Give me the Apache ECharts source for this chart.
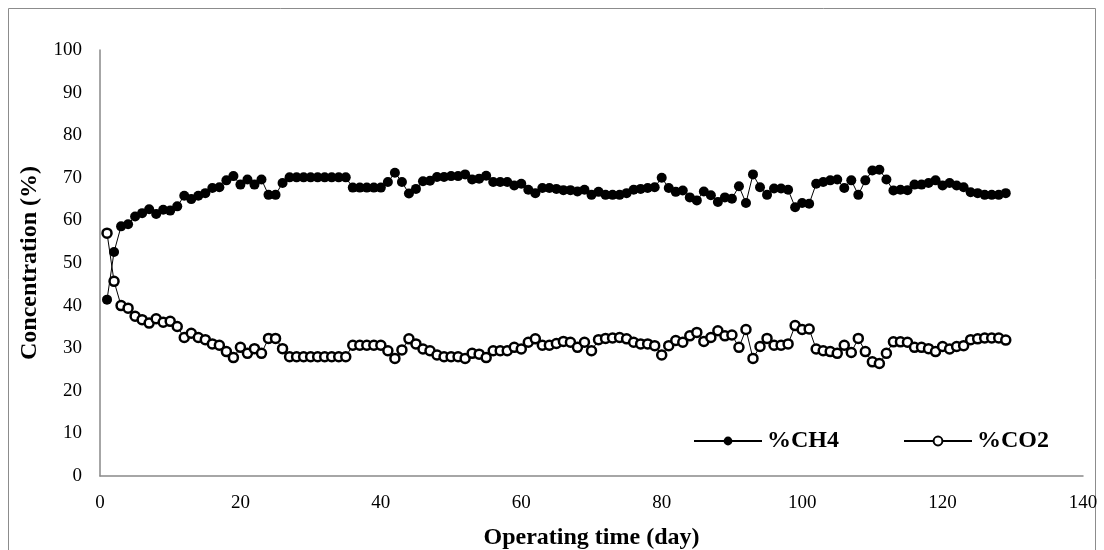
<!DOCTYPE html>
<html>
<head>
<meta charset="utf-8">
<script src="https://cdn.jsdelivr.net/npm/echarts@6/dist/echarts.min.js"></script>
<style>
  html, body { margin: 0; padding: 0; background: #ffffff; }
  #chart { width: 1104px; height: 550px; }
</style>
</head>
<body>
<div id="chart"></div>
<script>
// Biogas composition over the operating period (one reading per day)
const ch4 = [
  41.4, 52.6, 58.6, 59.1, 60.9, 61.7, 62.6, 61.5, 62.5, 62.3,
  63.3, 65.8, 65.0, 65.8, 66.4, 67.6, 67.8, 69.4, 70.4, 68.4,
  69.6, 68.4, 69.6, 66.0, 66.0, 68.8, 70.1, 70.1, 70.1, 70.1,
  70.1, 70.1, 70.1, 70.1, 70.1, 67.7, 67.7, 67.7, 67.7, 67.7,
  69.0, 71.2, 69.0, 66.3, 67.4, 69.2, 69.3, 70.2, 70.2, 70.4,
  70.4, 70.8, 69.6, 69.8, 70.5, 69.0, 69.0, 69.0, 68.2, 68.6,
  67.2, 66.4, 67.6, 67.6, 67.4, 67.1, 67.1, 66.8, 67.2, 66.0,
  66.7, 66.0, 66.0, 66.0, 66.4, 67.2, 67.4, 67.6, 67.8, 70.0,
  67.6, 66.7, 67.0, 65.4, 64.7, 66.8, 65.9, 64.3, 65.4, 65.1,
  68.0, 64.1, 70.8, 67.8, 66.0, 67.5, 67.5, 67.2, 63.1, 64.1,
  63.9, 68.6, 69.0, 69.4, 69.6, 67.6, 69.4, 66.0, 69.4, 71.7,
  71.9, 69.6, 67.0, 67.2, 67.1, 68.4, 68.4, 68.8, 69.4, 68.2,
  68.8, 68.2, 67.8, 66.6, 66.4, 66.0, 66.0, 66.0, 66.4
];
const co2 = [
  57.0, 45.7, 40.0, 39.4, 37.5, 36.7, 35.9, 36.9, 36.1, 36.3,
  35.1, 32.5, 33.5, 32.5, 32.0, 31.0, 30.7, 29.2, 27.8, 30.2,
  28.8, 29.9, 28.8, 32.3, 32.3, 29.9, 28.0, 28.0, 28.0, 28.0,
  28.0, 28.0, 28.0, 28.0, 28.0, 30.7, 30.7, 30.7, 30.7, 30.7,
  29.4, 27.6, 29.6, 32.2, 31.0, 29.8, 29.4, 28.4, 28.0, 28.0,
  28.0, 27.6, 28.8, 28.6, 27.8, 29.4, 29.4, 29.4, 30.2, 29.8,
  31.4, 32.2, 30.7, 30.7, 31.1, 31.6, 31.4, 30.2, 31.4, 29.4,
  32.0, 32.3, 32.4, 32.5, 32.2, 31.4, 31.0, 31.0, 30.6, 28.4,
  30.6, 31.8, 31.4, 32.9, 33.7, 31.6, 32.5, 34.1, 32.9, 33.1,
  30.2, 34.4, 27.6, 30.4, 32.3, 30.7, 30.7, 31.0, 35.3, 34.4,
  34.5, 29.8, 29.4, 29.2, 28.8, 30.7, 29.0, 32.3, 29.2, 26.8,
  26.4, 28.8, 31.5, 31.5, 31.4, 30.2, 30.2, 29.9, 29.2, 30.4,
  29.8, 30.4, 30.6, 32.0, 32.2, 32.4, 32.4, 32.4, 31.9
];
const firstDay = 1;
const seriesNames = ['%CH4', '%CO2'];
const xTicks = { min: 0, max: 140, interval: 20 };
const yTicks = { min: 0, max: 100, interval: 10 };
const xTitle = 'Operating time (day)';
const yTitle = 'Concentration (%)';

const toPairs = arr => arr.map((v, i) => [firstDay + i, v]);

const serif = '"Liberation Serif", "Times New Roman", serif';
const axisGray = '#898989';

const chart = echarts.init(document.getElementById('chart'), null, { renderer: 'canvas' });
chart.setOption({
  animation: false,
  backgroundColor: '#ffffff',
  graphic: [{
    type: 'rect',
    shape: { x: 8.5, y: 8.5, width: 1087, height: 600 },
    style: { fill: 'none', stroke: '#8c8c8c', lineWidth: 1 },
    silent: true
  }],
  grid: { left: 100, top: 50, right: 21, bottom: 74, containLabel: false, outerBoundsMode: 'none' },
  legend: {
    left: 688,
    top: 424,
    itemWidth: 68,
    itemHeight: 11,
    itemGap: 64,
    textStyle: { fontFamily: serif, fontWeight: 'bold', fontSize: 24, color: '#000' },
    data: seriesNames
  },
  xAxis: {
    type: 'value',
    min: xTicks.min, max: xTicks.max, interval: xTicks.interval,
    name: xTitle,
    nameLocation: 'middle',
    nameGap: 50,
    nameTextStyle: { fontFamily: serif, fontWeight: 'bold', fontSize: 24, color: '#000' },
    axisLine: { show: true, lineStyle: { color: axisGray, width: 1.5 } },
    axisTick: { show: false },
    splitLine: { show: false },
    axisLabel: { fontFamily: serif, fontSize: 19, color: '#000', margin: 18 }
  },
  yAxis: {
    type: 'value',
    min: yTicks.min, max: yTicks.max, interval: yTicks.interval,
    name: yTitle,
    nameLocation: 'middle',
    nameGap: 58,
    nameRotate: 90,
    nameTextStyle: { fontFamily: serif, fontWeight: 'bold', fontSize: 24, color: '#000' },
    axisLine: { show: true, lineStyle: { color: axisGray, width: 1.5 } },
    axisTick: { show: false },
    splitLine: { show: false },
    axisLabel: { fontFamily: serif, fontSize: 19, color: '#000', margin: 18 }
  },
  series: [
    {
      name: seriesNames[0],
      type: 'line',
      data: toPairs(ch4),
      symbol: 'circle',
      symbolSize: 10,
      showAllSymbol: true,
      lineStyle: { color: '#000', width: 1 },
      itemStyle: { color: '#000', borderColor: '#000', borderWidth: 0 },
      emphasis: { disabled: true }
    },
    {
      name: seriesNames[1],
      type: 'line',
      data: toPairs(co2),
      symbol: 'circle',
      symbolSize: 9,
      showAllSymbol: true,
      lineStyle: { color: '#000', width: 1 },
      itemStyle: { color: '#fff', borderColor: '#000', borderWidth: 2.5 },
      emphasis: { disabled: true }
    }
  ]
});
</script>
</body>
</html>
